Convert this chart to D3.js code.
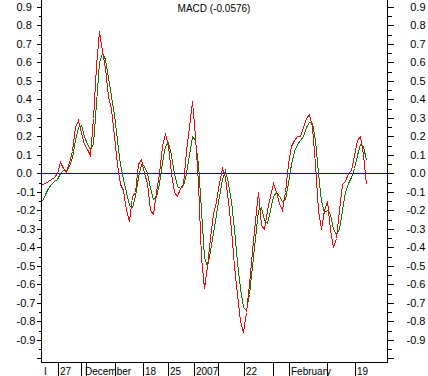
<!DOCTYPE html>
<html>
<head>
<meta charset="utf-8">
<script src="https://cdn.jsdelivr.net/npm/d3@7"></script>
<style>
  body { margin: 0; background: #fff; }
  text { font-family: "Liberation Sans", Arial, sans-serif; fill: #000; }
</style>
</head>
<body>
<div id="chart"></div>
<script>
// MACD values (red) and signal line (green), one per period
var macd = [
  -0.06, -0.05, -0.04, -0.03, -0.02, 0.0, 0.06, 0.03, 0.01, 0.06,
  0.12, 0.25, 0.29, 0.22, 0.16, 0.13, 0.10, 0.30, 0.58, 0.77,
  0.66, 0.57, 0.42, 0.35, 0.20, 0.05, -0.06, -0.09, -0.20, -0.26,
  -0.12, -0.10, 0.05, 0.08, 0.0, -0.05, -0.20, -0.22, -0.10, 0.0,
  0.15, 0.22, 0.15, 0.0, -0.10, -0.12, -0.08, -0.06, 0.12, 0.25,
  0.39, 0.20, -0.05, -0.45, -0.62, -0.50, -0.35, -0.22, -0.15, -0.05,
  0.03, -0.02, -0.15, -0.30, -0.50, -0.65, -0.80, -0.86, -0.75, -0.60,
  -0.42, -0.25, -0.10, -0.28, -0.30, -0.20, -0.12, -0.05, -0.10, -0.16,
  -0.20, -0.10, 0.05, 0.15, 0.18, 0.20, 0.20, 0.25, 0.30, 0.32,
  0.25, 0.05, -0.20, -0.30, -0.20, -0.15, -0.30, -0.40, -0.35, -0.20,
  -0.06, -0.04, 0.0, 0.02, 0.10, 0.18, 0.20, 0.10, -0.0576
];
var signal = [
  -0.15, -0.11, -0.08, -0.06, -0.04, -0.03, 0.0, 0.02, 0.02, 0.04,
  0.09, 0.18, 0.25, 0.26, 0.20, 0.16, 0.13, 0.16, 0.38, 0.60,
  0.65, 0.62, 0.52, 0.42, 0.32, 0.18, 0.05, -0.03, -0.10, -0.17,
  -0.18, -0.12, -0.02, 0.05, 0.04, 0.0, -0.08, -0.14, -0.13, -0.05,
  0.06, 0.15, 0.17, 0.10, 0.0, -0.07, -0.08, -0.07, 0.0, 0.10,
  0.20, 0.18, 0.05, -0.20, -0.45, -0.50, -0.42, -0.32, -0.22, -0.12,
  -0.03, 0.02, -0.05, -0.15, -0.30, -0.48, -0.62, -0.72, -0.74, -0.65,
  -0.50, -0.35, -0.20, -0.18, -0.25, -0.27, -0.20, -0.12, -0.10, -0.12,
  -0.15, -0.14, -0.05, 0.05, 0.12, 0.16, 0.18, 0.20, 0.25, 0.28,
  0.27, 0.18, 0.0, -0.15, -0.21, -0.20, -0.22, -0.30, -0.33, -0.30,
  -0.20, -0.10, -0.05, -0.02, 0.03, 0.10, 0.16, 0.15, 0.07
];

// date separators along the bottom (period index) and their labels
var sepIndex = [5.33, 13, 14.67, 24.33, 33.67, 42, 50.67, 58.67, 67.33, 77, 82.33, 95, 104.33];
var dateLabels = [
  {at: 0, text: "I"},
  {at: 5.33, text: "27"},
  {at: 13.67, text: "December"},
  {at: 33.67, text: "18"},
  {at: 42, text: "25"},
  {at: 50.67, text: "2007"},
  {at: 67.33, text: "22"},
  {at: 82.33, text: "February"},
  {at: 104.33, text: "19"}
];

var majorTicks = d3.range(-10, 10).map(function (d) { return d / 10; });
var minorTicks = d3.range(-19, 19, 2).map(function (d) { return d / 20; });

var width = 428, height = 376,
    plotLeft = 41, plotRight = 387, plotTop = 0, plotBottom = 362;

var svg = d3.select('#chart').append('svg')
    .attr('width', width)
    .attr('height', height)
    .style('display', 'block');

var x = d3.scaleLinear().domain([0, 115]).range([plotLeft + 1, plotLeft + 1 + 345]);
var y = d3.scaleLinear().domain([-1.0195, 0.937]).range([plotBottom, plotTop]);

function fmt(v) {
    if (v <= -0.95) return '';
    return v.toFixed(1);
}

// left axis
var gl = svg.append('g')
    .attr('transform', 'translate(' + (plotLeft + 0.5) + ',0)')
    .call(d3.axisLeft(y).tickValues(majorTicks).tickSize(5).tickFormat(fmt));
gl.append('g').call(d3.axisLeft(y).tickValues(minorTicks).tickSize(3).tickFormat(''));
gl.selectAll('path.domain').remove();
gl.selectAll('line').attr('stroke', '#000').attr('shape-rendering', 'crispEdges');
gl.selectAll('text')
    .attr('x', 16 - plotLeft)
    .style('text-anchor', 'start')
    .style('font-size', '11px');

// right axis
var gr = svg.append('g')
    .attr('transform', 'translate(' + (plotRight + 0.5) + ',0)')
    .call(d3.axisRight(y).tickValues(majorTicks).tickSize(6).tickFormat(fmt));
gr.append('g').call(d3.axisRight(y).tickValues(minorTicks).tickSize(4).tickFormat(''));
gr.selectAll('path.domain').remove();
gr.selectAll('line').attr('stroke', '#000').attr('shape-rendering', 'crispEdges');
gr.selectAll('text')
    .attr('x', 425 - plotRight)
    .style('text-anchor', 'end')
    .style('font-size', '11px');

// frame
svg.append('path')
    .attr('d', 'M' + (plotLeft + 0.5) + ',0V' + (plotBottom + 0.5) + 'H' + (plotRight + 0.5) + 'V0')
    .attr('fill', 'none')
    .attr('stroke', '#000')
    .attr('shape-rendering', 'crispEdges');

// zero line
svg.append('rect')
    .attr('x', plotLeft + 1)
    .attr('width', plotRight - plotLeft - 1)
    .attr('y', Math.round(y(0)))
    .attr('height', 1)
    .style('fill', '#0000ff');

// series lines
var line = d3.line()
    .x(function (d, i) { return Math.round(x(i)) + 0.5; })
    .y(function (d) { return Math.round(y(d)) + 0.5; });

svg.append('path')
    .datum(signal)
    .attr('d', line)
    .attr('fill', 'none')
    .attr('stroke', '#008000')
    .attr('stroke-width', 1)
    .attr('shape-rendering', 'crispEdges');

svg.append('path')
    .datum(macd)
    .attr('d', line)
    .attr('fill', 'none')
    .attr('stroke', '#ff0000')
    .attr('stroke-width', 1)
    .attr('shape-rendering', 'crispEdges');

// bottom date separators and labels
svg.selectAll('line.sep')
    .data(sepIndex)
    .enter()
    .append('line')
    .attr('class', 'sep')
    .attr('x1', function (d) { return Math.round(x(d)) + 0.5; })
    .attr('x2', function (d) { return Math.round(x(d)) + 0.5; })
    .attr('y1', plotBottom)
    .attr('y2', height)
    .attr('stroke', '#000')
    .attr('shape-rendering', 'crispEdges');

svg.selectAll('text.date')
    .data(dateLabels)
    .enter()
    .append('text')
    .attr('class', 'date')
    .attr('x', function (d) { return Math.round(x(d.at)) + 2; })
    .attr('y', 375)
    .style('font-size', '10px')
    .text(function (d) { return d.text; });

// title
svg.append('text')
    .attr('x', (plotLeft + plotRight) / 2)
    .attr('y', 12)
    .style('text-anchor', 'middle')
    .style('font-size', '10px')
    .text('MACD (' + macd[macd.length - 1].toFixed(4) + ')');
</script>
</body>
</html>
